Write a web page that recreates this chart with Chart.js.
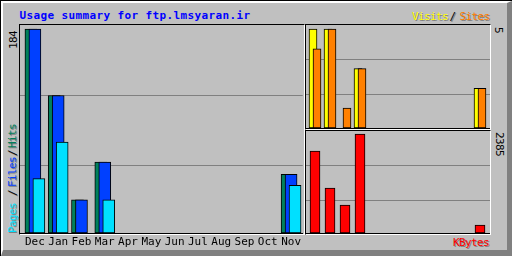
<!DOCTYPE html>
<html><head><meta charset="utf-8">
<script src="https://cdn.jsdelivr.net/npm/chart.js@4.4.1/dist/chart.umd.min.js"></script>
<style>
html,body{margin:0;padding:0;width:512px;height:256px;overflow:hidden;background:#c0c0c0}
#frame{position:absolute;left:0;top:0;width:512px;height:256px;box-sizing:border-box;background:#c0c0c0;border-top:1px solid #000;border-left:1px solid #000}
#bevel{position:absolute;left:0;top:0;right:0;bottom:0;box-sizing:border-box;border-top:2px solid #fff;border-left:2px solid #fff;border-right:5px solid #808080;border-bottom:6px solid #808080}
.panel{position:absolute;box-sizing:border-box;border-style:solid;border-width:1px;border-color:#000 #fff #fff #000}
canvas{position:absolute}
.t{position:absolute;font-family:'DejaVu Sans Mono',monospace;font-size:11px;line-height:11px;white-space:nowrap;letter-spacing:-0.6px;color:#000}
.sh{text-shadow:1px 1px 0 #808080}
.up{transform-origin:0 0;transform:rotate(-90deg)}
.up.sh{text-shadow:-1px 1px 0 #808080}
.dn{transform-origin:0 0;transform:rotate(90deg)}
#title{font-weight:bold;letter-spacing:0.38px;color:#0000ff}
</style></head>
<body>
<div id="frame"><div id="bevel"></div></div>
<div class="panel" style="left:19px;top:24px;width:286px;height:211px"></div>
<div class="panel" style="left:305px;top:24px;width:186px;height:106px"></div>
<div class="panel" style="left:305px;top:130px;width:186px;height:105px"></div>
<canvas id="cMain" width="284" height="231" style="left:20px;top:25px"></canvas>
<canvas id="cVis" width="184" height="104" style="left:306px;top:25px"></canvas>
<canvas id="cKb" width="184" height="103" style="left:306px;top:131px"></canvas>

<div class="t" id="title" style="left:19.5px;top:9.7px">Usage summary for ftp.lmsyaran.ir</div>
<div class="t sh" style="left:412px;top:11.4px;color:#ffff00">Visits</div>
<div class="t sh" style="left:449.5px;top:11.4px;color:#000">/</div>
<div class="t sh" style="left:459.5px;top:11.4px;color:#ff8000">Sites</div>
<div class="t sh" style="left:453px;top:237px;color:#ff0000">KBytes</div>

<div class="t up" id="lblMain" style="left:7.7px;top:48.5px"></div>
<div class="t up sh" style="left:7px;top:232.5px;color:#00e0ff">Pages</div>
<div class="t up sh" style="left:7px;top:195.5px;color:#000">/</div>
<div class="t up sh" style="left:7px;top:187px;color:#0040ff">Files</div>
<div class="t up sh" style="left:7px;top:155.5px;color:#000">/</div>
<div class="t up sh" style="left:7px;top:147.5px;color:#00805c">Hits</div>
<div class="t dn" id="lblVis" style="left:504.3px;top:26.5px"></div>
<div class="t dn" id="lblKb" style="left:505.3px;top:131.8px"></div>

<script>
const months = ['Dec','Jan','Feb','Mar','Apr','May','Jun','Jul','Aug','Sep','Oct','Nov'];
const hits   = [184, 124, 30, 64, 0, 0, 0, 0, 0, 0, 0, 53];
const files  = [184, 124, 30, 64, 0, 0, 0, 0, 0, 0, 0, 53];
const pages  = [49, 82, 0, 30, 0, 0, 0, 0, 0, 0, 0, 43];
const visits = [5, 5, 0, 3, 0, 0, 0, 0, 0, 0, 0, 2];
const sites  = [4, 5, 1, 3, 0, 0, 0, 0, 0, 0, 0, 2];
const kbytes = [1975, 1084, 675, 2385, 0, 0, 0, 0, 0, 0, 0, 193];

const FONT = "'DejaVu Sans Mono', monospace";
const maxHits = Math.max(...hits), maxVis = Math.max(...visits), maxKb = Math.max(...kbytes);
document.getElementById('lblMain').textContent = String(maxHits);
document.getElementById('lblVis').textContent = String(maxVis);
document.getElementById('lblKb').textContent = String(maxKb);

function pts(arr, off) { return arr.map((v, i) => ({x: i + off, y: v})); }
function gridAt(fr) { return s => { s.ticks = fr.map(f => ({value: s.max * f})); }; }
function yAxis(max, fr) {
  return {min: 0, max, grid: {color: '#808080', drawTicks: false, lineWidth: 1},
    border: {display: false}, ticks: {display: false},
    afterBuildTicks: gridAt(fr), afterFit: s => { s.width = 0; }};
}
function baseX(min, max, h, labels) {
  return {type: 'linear', min, max, offset: false,
    grid: {display: false, drawTicks: false}, border: {display: true, color: '#000', width: 1},
    afterBuildTicks: s => { s.ticks = months.map((m, i) => ({value: i})); },
    afterFit: s => { s.height = h; },
    ticks: {display: labels, autoSkip: false, maxRotation: 0, minRotation: 0, padding: 3, color: '#000',
      font: {family: FONT, size: 11}, callback: v => months[v]}};
}
const common = {responsive: false, animation: false, devicePixelRatio: 1, layout: {padding: 0},
  plugins: {legend: {display: false}, tooltip: {enabled: false}}};
const barStyle = {borderColor: '#000', borderWidth: 1, borderSkipped: false, grouped: false};

// main: hits / files / pages (dataset 0 is drawn on top)
const mMin = -0.64, mMax = 11.5, mOff = 0.171;
new Chart(document.getElementById('cMain'), {
  type: 'bar',
  data: {datasets: [
    Object.assign({label: 'Pages', data: pts(pages, mOff), backgroundColor: '#00e0ff', barThickness: 12}, barStyle),
    Object.assign({label: 'Files', data: pts(files, 0), backgroundColor: '#0040ff', barThickness: 12}, barStyle),
    Object.assign({label: 'Hits', data: pts(hits, -mOff), backgroundColor: '#00805c', barThickness: 12}, barStyle)
  ]},
  options: Object.assign({}, common, {scales: {
    x: baseX(mMin, mMax, 23, true),
    y: yAxis(maxHits * 208 / 204, [68 / 208, 138 / 208])
  }})
});

// visits / sites
const rMin = -0.6, rMax = 11.667, rOff = 0.133;
new Chart(document.getElementById('cVis'), {
  type: 'bar',
  data: {datasets: [
    Object.assign({label: 'Sites', data: pts(sites, rOff), backgroundColor: '#ff8000', barThickness: 8}, barStyle),
    Object.assign({label: 'Visits', data: pts(visits, -rOff), backgroundColor: '#ffff00', barThickness: 8}, barStyle)
  ]},
  options: Object.assign({}, common, {scales: {
    x: baseX(rMin, rMax, 1, false),
    y: yAxis(maxVis * 103 / 99, [33 / 103, 68 / 103])
  }})
});

// kbytes
new Chart(document.getElementById('cKb'), {
  type: 'bar',
  data: {datasets: [
    Object.assign({label: 'KBytes', data: pts(kbytes, 0), backgroundColor: '#ff0000', barThickness: 10}, barStyle)
  ]},
  options: Object.assign({}, common, {scales: {
    x: baseX(rMin, rMax, 1, false),
    y: yAxis(maxKb * 102 / 99, [33 / 102, 68 / 102])
  }})
});
</script>
</body></html>
